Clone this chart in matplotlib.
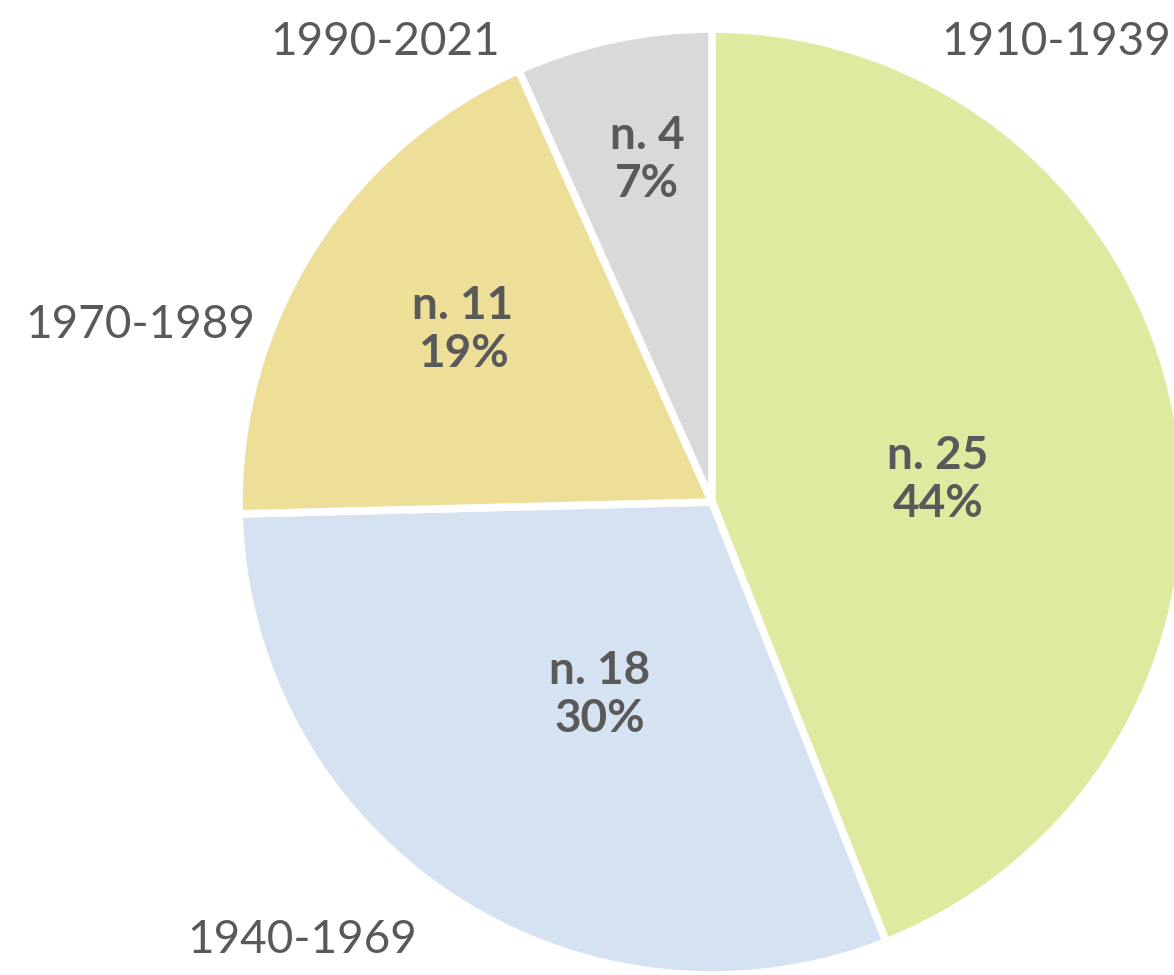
import matplotlib.pyplot as plt

# data
periods = ['1910-1939', '1940-1969', '1970-1989', '1990-2021']
counts = [25, 18, 11, 4]
percents = [44, 30, 19, 7]
shares = [44.0, 30.6, 18.7, 6.7]
colors = ['#DFE99F', '#D4E2F1', '#EDDE98', '#D9D9D9']

W, H = 1174, 975
TXT = '#595959'

fig = plt.figure(figsize=(W / 100, H / 100), dpi=100)
ax = fig.add_axes([0, 0, 1, 1])

cx, cy, r = 712, H - 502, 473
ax.pie(shares, colors=colors, startangle=90, counterclock=False,
       center=(cx, cy), radius=r, frame=True,
       wedgeprops=dict(edgecolor='white', linewidth=5.5))
ax.set_xlim(0, W)
ax.set_ylim(0, H)
ax.set_aspect('equal')
ax.axis('off')

# label positions in pixels (x, y from top)
inner_pos = [(938, 480), (600, 695), (463, 330), (647, 160)]
outer_pos = [(1171, 42, 'right'), (187, 940, 'left'), (25, 325, 'left'), (270, 42, 'left')]

for (x, y), n, p in zip(inner_pos, counts, percents):
    ax.text(x, H - y, f'n. {n}\n{p}%', ha='center', va='center',
            fontsize=33, fontweight='bold', family='Lato', color=TXT,
            linespacing=1.15)

for (x, y, ha), lab in zip(outer_pos, periods):
    ax.text(x, H - y, lab, ha=ha, va='center', fontsize=33,
            family='Lato', color=TXT)

fig.savefig('out.png', dpi=100)
